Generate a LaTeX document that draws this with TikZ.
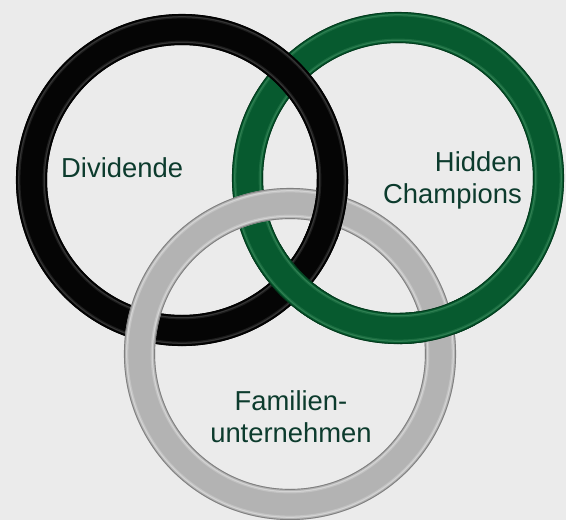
\documentclass[tikz,border=0pt]{standalone}
\usepackage{fontspec}
\setmainfont{Liberation Sans}
\definecolor{bgcol}{HTML}{EBEBEB}
\definecolor{txtcol}{HTML}{0C3B2D}
\definecolor{blkfill}{HTML}{050505}
\definecolor{blkhi}{HTML}{4A4A4A}
\definecolor{grnfill}{HTML}{075A2F}
\definecolor{grnedge}{HTML}{03391C}
\definecolor{grnhi}{HTML}{3F8F60}
\definecolor{gryfill}{HTML}{B3B3B3}
\definecolor{gryedge}{HTML}{808080}
\definecolor{gryhi}{HTML}{E2E2E2}
\newcommand\myring[4]{%
  \fill[#2,even odd rule] (#1) circle[radius=166pt] (#1) circle[radius=135pt];
  \draw[#4,line width=2.4pt,opacity=0.35] (#1) circle[radius=162.8pt];
  \draw[#4,line width=1.0pt,opacity=0.55] (#1) circle[radius=163.3pt];
  \draw[#4,line width=2.4pt,opacity=0.35] (#1) circle[radius=138.2pt];
  \draw[#4,line width=1.0pt,opacity=0.55] (#1) circle[radius=137.7pt];
  \draw[#3,line width=0.9pt] (#1) circle[radius=165.6pt];
  \draw[#3,line width=0.9pt] (#1) circle[radius=135.4pt];
}
\newcommand\ringBlack{\myring{cB}{blkfill}{black}{blkhi}}
\newcommand\ringGreen{\myring{cG}{grnfill}{grnedge}{grnhi}}
\newcommand\ringGray{\myring{cY}{gryfill}{gryedge}{gryhi}}
\begin{document}
\begin{tikzpicture}[x=1pt,y=-1pt,
  lbl/.style={text=txtcol,font=\fontsize{27.4}{32}\selectfont,inner sep=0pt}]
\useasboundingbox (0,0) rectangle (566,520);
\fill[bgcol] (0,0) rectangle (566,520);
\clip (0,0) rectangle (566,520);
\coordinate (cB) at (182,180);
\coordinate (cG) at (398,178);
\coordinate (cY) at (290,354);
\ringGreen
\ringBlack
\ringGray
% green over black at lower crossing
\begin{scope}
  \clip (251,244) rectangle (331,324);
  \ringGreen
\end{scope}
% black over gray at upper right crossing
\begin{scope}
  \clip (300,179) rectangle (360,239);
  \ringBlack
\end{scope}
% green over gray at right crossing
\begin{scope}
  \clip (400,290) rectangle (475,360);
  \ringGreen
\end{scope}
\node[lbl,anchor=base west] (div) at (61,177) {Dividende};
\node[lbl,anchor=base east] (hid) at (522,171) {Hidden};
\node[lbl,anchor=base east] (cha) at (522,203) {Champions};
\node[lbl,anchor=base] (fam) at (291,410) {Familien-};
\node[lbl,anchor=base] (unt) at (291,442) {unternehmen};
\end{tikzpicture}
\end{document}
